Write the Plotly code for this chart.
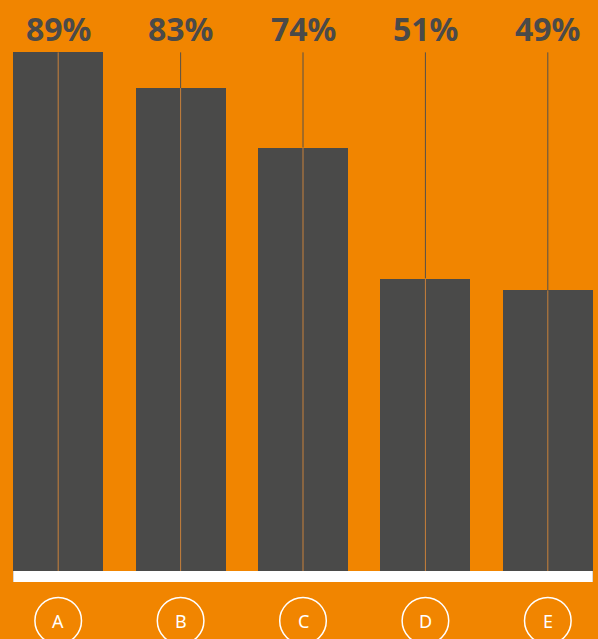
import plotly.graph_objects as go

categories = ["A", "B", "C", "D", "E"]
values = [89, 83, 73, 51, 49]
labels = ["89%", "83%", "74%", "51%", "49%"]

ORANGE = "#F18500"
DARK = "#4A4A49"
BAR_W = 0.735

xs = list(range(len(categories)))
ymax = max(values)

fig = go.Figure()
fig.add_trace(go.Bar(x=xs, y=values, width=BAR_W, marker=dict(color=DARK, line=dict(width=0)),
                     hoverinfo="skip"))

shapes = []
for x, v in zip(xs, values):
    shapes.append(dict(type="line", xref="x", yref="y", x0=x, x1=x, y0=v, y1=ymax,
                       line=dict(color="#55504A", width=1), layer="above"))
    shapes.append(dict(type="line", xref="x", yref="y", x0=x, x1=x, y0=0, y1=v,
                       line=dict(color="#C8803A", width=1), layer="above"))
shapes.append(dict(type="rect", xref="x", yref="y", x0=xs[0] - BAR_W / 2, x1=xs[-1] + BAR_W / 2,
                   y0=0, y1=1.85, fillcolor="white", line=dict(width=0), layer="above"))
for x in xs:
    shapes.append(dict(type="circle", xref="x", yref="paper", xsizemode="pixel", ysizemode="pixel",
                       xanchor=x, yanchor=-0.0665, x0=-23.3, x1=23.3, y0=-23.3, y1=23.3,
                       line=dict(color="white", width=1.5)))

annotations = []
for x, lab in zip(xs, labels):
    annotations.append(dict(x=x, y=ymax, xref="x", yref="y", text=lab, showarrow=False,
                            yshift=24, yanchor="middle",
                            font=dict(family="Noto Sans", size=32, color=DARK, weight="bold")))
for x, c in zip(xs, categories):
    annotations.append(dict(x=x, y=-0.0665, xref="x", yref="paper", text=c, showarrow=False,
                            yanchor="middle", font=dict(family="Noto Sans", size=18, color="white")))

fig.update_layout(
    width=598, height=639,
    margin=dict(l=0, r=0, t=0, b=57),
    paper_bgcolor=ORANGE, plot_bgcolor=ORANGE,
    showlegend=False,
    xaxis=dict(range=[-0.4755, 4.41], visible=False, fixedrange=True),
    yaxis=dict(range=[0, 97.8], visible=False, fixedrange=True),
    shapes=shapes, annotations=annotations,
    bargap=0,
)

fig.write_html("out.html", config={"displayModeBar": False})
